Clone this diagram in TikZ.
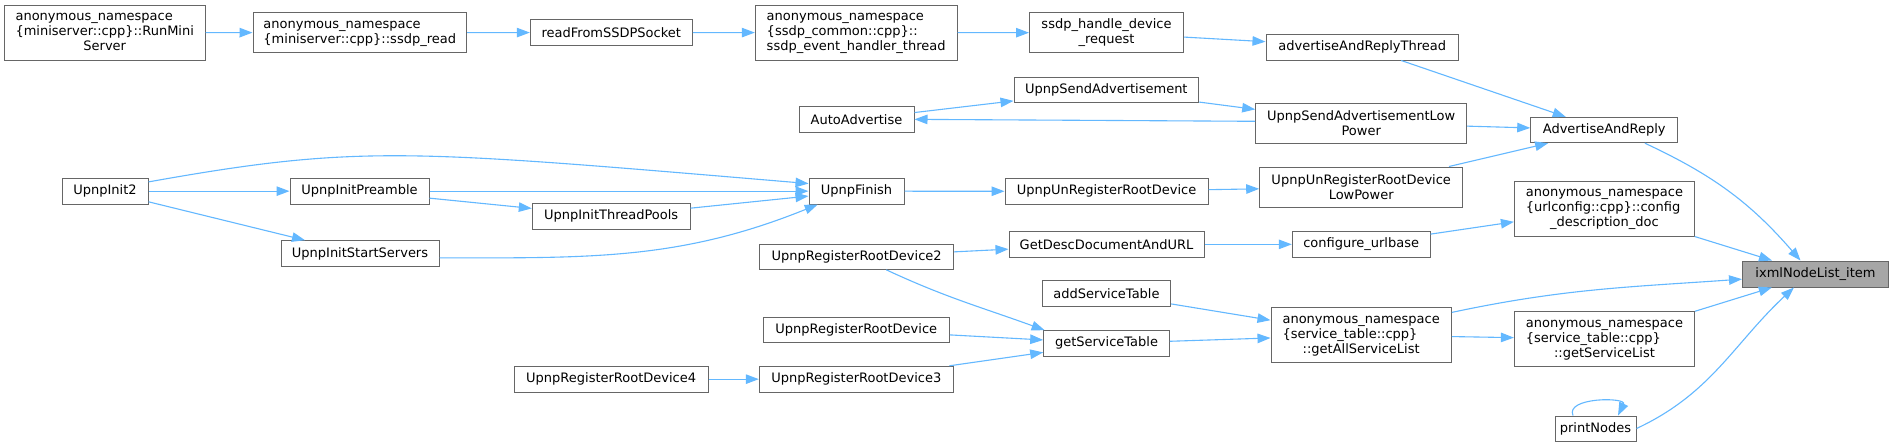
\documentclass[tikz,border=0pt]{standalone}
\usepackage{fontspec}
\setmainfont{DejaVu Sans}
\usetikzlibrary{arrows.meta}
\definecolor{edgec}{HTML}{63B8FF}
\definecolor{bord}{HTML}{666666}
\definecolor{hl}{HTML}{A6A6A6}
\tikzset{
  box/.style={draw=bord, line width=1pt, fill=white, inner sep=0pt,
    font=\fontsize{13}{15}\selectfont, text=black, align=center},
  hlbox/.style={box, fill=hl},
  edge/.style={draw=edgec, line width=1.1pt, -{Triangle[length=13pt,width=9.5pt]}}
}
\newcommand\nd[7][box]{\node[#1, minimum width={#5pt-#3pt}, minimum height={#6pt-#4pt}] (#2) at ({(#3+#5)/2},{(#4+#6)/2}) {#7};}
\newcommand\tlines[3]{\begin{tabular}{@{}l@{}}#1\\#2\\\multicolumn{1}{@{}c@{}}{#3}\end{tabular}}
\newcommand\twol[2]{\begin{tabular}{@{}l@{}}#1\\\multicolumn{1}{@{}c@{}}{#2}\end{tabular}}
\begin{document}
\begin{tikzpicture}[x=1pt,y=-1pt]
\fill[white] (0,0) rectangle (1893,445);
\useasboundingbox (0,0) rectangle (1893,445);
% nodes
\nd{runmini}{4.5}{5}{205}{60}{\tlines{anonymous\_namespace}{\{miniserver::cpp\}::RunMini}{Server}}
\nd{ssdpread}{253}{12.7}{466.5}{52.7}{\twol{anonymous\_namespace}{\{miniserver::cpp\}::ssdp\_read}}
\nd{readsock}{530.3}{19.7}{692.3}{45.3}{readFromSSDPSocket}
\nd{evthread}{755.3}{5}{957}{60.3}{\tlines{anonymous\_namespace}{\{ssdp\_common::cpp\}::}{ssdp\_event\_handler\_thread}}
\nd{handle}{1029.5}{12.7}{1183.5}{52.7}{ssdp\_handle\_device\\\_request}
\nd{advthread}{1266}{34.3}{1458.5}{60}{advertiseAndReplyThread}
\nd{sendadv}{1014}{77.3}{1198.7}{102.7}{UpnpSendAdvertisement}
\nd{autoadv}{799}{106.7}{914}{132}{AutoAdvertise}
\nd{lowpower}{1255.7}{103}{1466.7}{143.3}{UpnpSendAdvertisementLow\\Power}
\nd{aar}{1530.7}{117.3}{1677.8}{142.7}{AdvertiseAndReply}
\nd{init2}{62}{178.3}{148}{204}{UpnpInit2}
\nd{preamble}{290}{178.3}{429}{204}{UpnpInitPreamble}
\nd{finish}{809}{178.3}{904}{204}{UpnpFinish}
\nd{unreg}{1005}{178.7}{1208}{204}{UpnpUnRegisterRootDevice}
\nd{unreglp}{1259.7}{167}{1462.7}{207.3}{UpnpUnRegisterRootDevice\\LowPower}
\nd{threadpools}{532.3}{203.3}{690}{229.3}{UpnpInitThreadPools}
\nd{cfgdesc}{1514.4}{181}{1694.5}{236}{\tlines{anonymous\_namespace}{\{urlconfig::cpp\}::config}{\_description\_doc}}
\nd{getdesc}{1009}{231.7}{1204}{257}{GetDescDocumentAndURL}
\nd{urlbase}{1292.3}{231.7}{1430}{257}{configure\_urlbase}
\nd{startsrv}{281}{240.7}{439}{266.7}{UpnpInitStartServers}
\nd{reg2}{759.7}{244}{953.7}{269.3}{UpnpRegisterRootDevice2}
\nd[hlbox]{ixml}{1742.5}{261}{1888.5}{287}{ixmlNodeList\_item}
\nd{addst}{1042.3}{280.7}{1170.7}{306}{addServiceTable}
\nd{getall}{1271}{307.7}{1451.3}{362.3}{\tlines{anonymous\_namespace}{\{service\_table::cpp\}}{::getAllServiceList}}
\nd{rrd}{763.3}{317}{949.3}{342.7}{UpnpRegisterRootDevice}
\nd{gsl}{1514.4}{311.7}{1694.5}{366.7}{\tlines{anonymous\_namespace}{\{service\_table::cpp\}}{::getServiceList}}
\nd{gst}{1043.7}{330.7}{1169.3}{356}{getServiceTable}
\nd{reg4}{514.3}{366.3}{708}{392}{UpnpRegisterRootDevice4}
\nd{reg3}{759.3}{366.3}{953.3}{392}{UpnpRegisterRootDevice3}
\nd{printn}{1555}{416}{1636}{441}{printNodes}
% edges
\draw[edge] (runmini) -- (ssdpread);
\draw[edge] (ssdpread) -- (readsock);
\draw[edge] (readsock) -- (evthread);
\draw[edge] (evthread) -- (handle);
\draw[edge] (handle) -- (advthread);
\draw[edge] (advthread) -- (aar);
\draw[edge] (autoadv) -- (sendadv);
\draw[edge] (sendadv) -- (lowpower);
\draw[edge] (lowpower.179) -- (autoadv.east);
\draw[edge] (lowpower) -- (aar);
\draw[edge] (unreglp) -- (aar);
\draw[edge] (aar.-18) to[out=-25,in=131] (ixml.138);
\draw[edge] (init2.12) .. controls (360.6,144) and (409,150) .. (finish.171);
\draw[edge] (init2) -- (preamble);
\draw[edge] (init2) -- (startsrv);
\draw[edge] (preamble) -- (finish);
\draw[edge] (preamble) -- (threadpools);
\draw[edge] (threadpools) -- (finish);
\draw[edge] (startsrv.-3) to[out=0,in=202] (finish.199);
\draw[edge] (finish) -- (unreg);
\draw[edge] (unreg) -- (unreglp);
\draw[edge] (cfgdesc) -- (ixml);
\draw[edge] (urlbase) -- (cfgdesc);
\draw[edge] (getdesc) -- (urlbase);
\draw[edge] (reg2) -- (getdesc);
\draw[edge] (reg2.-24) to[out=-25,in=160] (gst.168);
\draw[edge] (rrd) -- (gst);
\draw[edge] (reg3) -- (gst);
\draw[edge] (reg4) -- (reg3);
\draw[edge] (addst) -- (getall);
\draw[edge] (gst) -- (getall);
\draw[edge] (getall.14) to[out=12,in=184] (ixml.184);
\draw[edge] (getall) -- (gsl);
\draw[edge] (gsl) -- (ixml);
\draw[edge] (printn.east) to[out=25,in=223] (ixml.-148);
\draw[edge] (printn.150) .. controls (1565,397) and (1627,397) .. (printn.30);
\end{tikzpicture}
\end{document}
